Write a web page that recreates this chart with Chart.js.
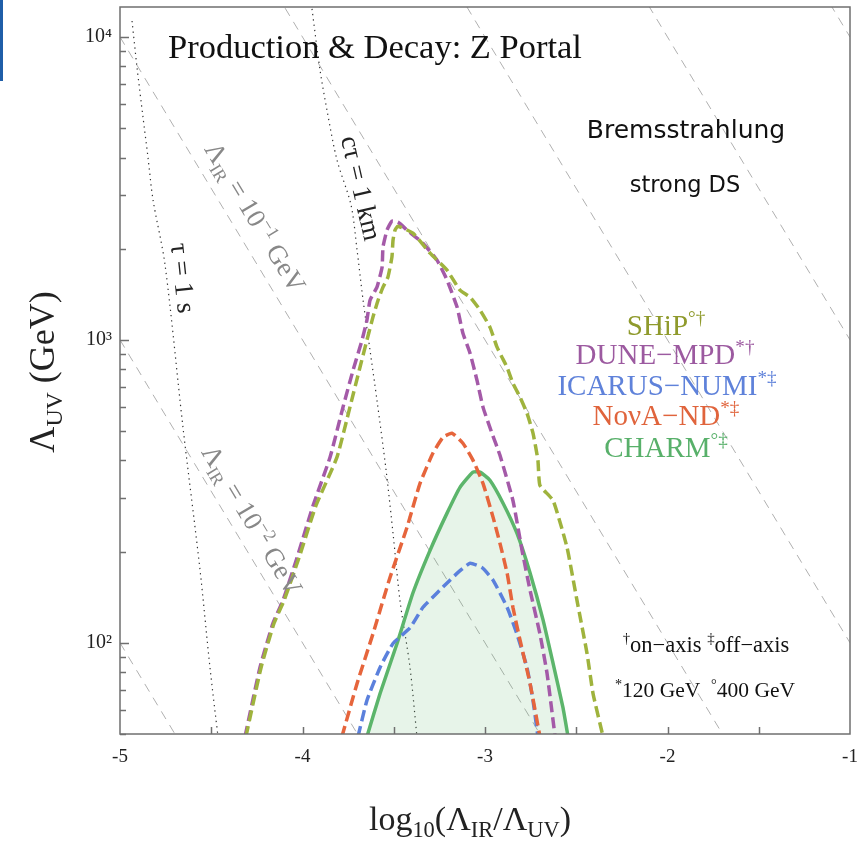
<!DOCTYPE html>
<html>
<head>
<meta charset="utf-8">
<script src="https://cdn.jsdelivr.net/npm/chart.js@4.4.1/dist/chart.umd.min.js"></script>
<style>
  html, body { margin: 0; padding: 0; background: #fff; }
  #contenedor { position: relative; width: 864px; height: 844px; }
  #marca { position: absolute; left: 0; top: 0; width: 3px; height: 81px; background: #1f5ea8; }
</style>
</head>
<body>
<div id="contenedor">
  <canvas id="grafica" width="864" height="844"></canvas>
  <div id="marca"></div>
</div>
<script>
// --- Datos (x = log10(ΛIR/ΛUV), y = ΛUV en GeV) ---
const shipX = [-4.310, -4.227, -4.156, -4.101, -4.019, -3.926, -3.811, -3.740, -3.685, -3.647, -3.614, -3.586, -3.559, -3.532, -3.510, -3.504, -3.493, -3.477, -3.395, -3.301, -3.208, -3.137, -3.082, -3.027, -2.973, -2.934, -2.907, -2.879, -2.847, -2.808, -2.770, -2.737, -2.710, -2.699, -2.627, -2.551, -2.496, -2.441, -2.408, -2.353];
const shipY = [49, 82.9, 116, 138, 191, 284, 410, 600, 812, 998, 1189, 1352, 1493, 1611, 1876, 2134, 2303, 2374, 2251, 1934, 1699, 1459, 1384, 1254, 1102, 946, 877, 812, 719, 647, 573, 492, 401, 331, 295, 207, 138, 92.3, 68.0, 49];

const duneX = [-4.315, -4.233, -4.162, -4.107, -4.030, -3.942, -3.849, -3.778, -3.723, -3.674, -3.647, -3.630, -3.592, -3.564, -3.559, -3.537, -3.510, -3.477, -3.427, -3.340, -3.263, -3.208, -3.153, -3.121, -3.082, -3.044, -3.011, -2.962, -2.918, -2.847, -2.797, -2.753, -2.699, -2.660, -2.616];
const duneY = [49, 82.9, 116, 138, 191, 284, 410, 600, 794, 998, 1162, 1352, 1493, 1738, 2025, 2303, 2467, 2448, 2303, 2086, 1834, 1575, 1283, 1052, 904, 736, 600, 492, 416, 295, 202, 149, 107, 79.2, 49];

const icarusX = [-3.696, -3.647, -3.575, -3.504, -3.411, -3.340, -3.263, -3.192, -3.137, -3.082, -3.016, -2.956, -2.879, -2.825, -2.770, -2.737, -2.710];
const icarusY = [49, 64.5, 82.9, 99.5, 112, 131, 146, 161, 173, 183, 177, 161, 131, 107, 82.9, 64.5, 49];

const novaX = [-3.784, -3.701, -3.614, -3.521, -3.427, -3.356, -3.285, -3.230, -3.181, -3.121, -3.066, -3.011, -2.956, -2.918, -2.879, -2.847, -2.808, -2.753, -2.699];
const novaY = [49, 73.4, 107, 164, 241, 336, 423, 477, 492, 456, 401, 336, 260, 213, 170, 131, 102, 73.4, 49];

const charmX = [-3.647, -3.575, -3.482, -3.395, -3.301, -3.208, -3.137, -3.066, -3.027, -2.973, -2.901, -2.825, -2.753, -2.682, -2.627, -2.573, -2.545];
const charmY = [49, 68.0, 99.5, 146, 202, 268, 326, 366, 366, 344, 289, 230, 170, 119, 85.5, 61.2, 49];

// --- Curvas de vida media (punteadas) ---
const tauX = [-4.934, -4.907, -4.874, -4.847, -4.819, -4.753, -4.655, -4.562, -4.507, -4.463];
const tauY = [11290, 7960, 5440, 4020, 2900, 1766, 515, 175, 82.9, 49];
const ctauX = [-3.948, -3.904, -3.866, -3.811, -3.734, -3.701, -3.668, -3.630, -3.592, -3.542, -3.504, -3.466, -3.411, -3.373];
const ctauY = [12380, 7780, 5740, 3925, 2786, 1977, 1352, 925, 632, 371, 230, 138, 82.9, 49];

// --- Rectas ΛIR constante (extremos en x = -5 y x = -1) ---
const irExtremosX = [-5, -1];
const irInicioY = [100, 1000, 1e4, 1e5, 1e6, 1e7, 1e8];
const irFinY = [0.01, 0.1, 1, 10, 100, 1000, 1e4];

// --- Ejes ---
const ticksY = [50, 60, 70, 80, 90, 100, 200, 300, 400, 500, 600, 700, 800, 900, 1000, 2000, 3000, 4000, 5000, 6000, 7000, 8000, 9000, 10000];
const etiquetasY = { 100: '10²', 1000: '10³', 10000: '10⁴' };
const ticksXmenores = [-4.5, -4, -3.5, -3, -2.5, -2, -1.5];

// --- Colores ---
const colorShip = '#9fb33d';
const colorDune = '#a45aa8';
const colorIcarus = '#5b80dc';
const colorNova = '#e6653c';
const colorCharm = '#5cb56b';

const serif = '"Liberation Serif", "DejaVu Serif", serif';
const sans = '"DejaVu Sans", sans-serif';

function puntos(xs, ys) {
    return xs.map((x, i) => ({ x: x, y: ys[i] }));
}

function curva(etiqueta, xs, ys, color, orden, extra) {
    return Object.assign({
        label: etiqueta,
        data: puntos(xs, ys),
        showLine: true,
        borderColor: color,
        borderWidth: 3.5,
        borderDash: [11, 5],
        pointRadius: 0,
        fill: false,
        tension: 0.15,
        order: orden
    }, extra || {});
}

// --- Dibujo de texto con subíndices y superíndices ---
function dibujarRico(ctx, partes, x, y, tam, familia, color, alinear) {
    const tamDe = tipo => (tipo === 'n' ? tam : tam * 0.66);
    const anchos = partes.map(([t, tipo]) => {
        ctx.font = tamDe(tipo) + 'px ' + familia;
        return ctx.measureText(t).width;
    });
    const total = anchos.reduce((a, b) => a + b, 0);
    let cx = alinear === 'center' ? x - total / 2 : (alinear === 'right' ? x - total : x);
    ctx.fillStyle = color;
    ctx.textAlign = 'left';
    ctx.textBaseline = 'alphabetic';
    partes.forEach(([t, tipo], i) => {
        ctx.font = tamDe(tipo) + 'px ' + familia;
        const dy = tipo === 'sub' ? tam * 0.22 : (tipo === 'sup' ? -tam * 0.38 : 0);
        ctx.fillText(t, cx, y + dy);
        cx += anchos[i];
    });
}

function dibujarRotado(ctx, partes, px, py, angulo, tam, familia, color) {
    ctx.save();
    ctx.translate(px, py);
    ctx.rotate(angulo);
    dibujarRico(ctx, partes, 0, tam * 0.32, tam, familia, color, 'center');
    ctx.restore();
}

// --- Plugin: marco y marcas interiores ---
const marcoPlugin = {
    id: 'marco',
    afterDatasetsDraw(chart) {
        const ctx = chart.ctx;
        const a = chart.chartArea;
        const ya = chart.scales.y;
        const xa = chart.scales.x;
        ctx.save();
        ctx.strokeStyle = '#6f6f6f';
        ctx.lineWidth = 1.5;
        ctx.strokeRect(a.left, a.top, a.right - a.left, a.bottom - a.top);
        ctx.beginPath();
        ticksY.forEach(v => {
            const p = Math.round(ya.getPixelForValue(v)) + 0.5;
            const largo = etiquetasY[v] ? 9 : 6;
            ctx.moveTo(a.left, p);
            ctx.lineTo(a.left + largo, p);
        });
        ticksXmenores.forEach(v => {
            const p = Math.round(xa.getPixelForValue(v)) + 0.5;
            ctx.moveTo(p, a.bottom);
            ctx.lineTo(p, a.bottom - 7);
        });
        ctx.stroke();
        ctx.restore();
    }
};

// --- Plugin: textos ---
const textosPlugin = {
    id: 'textos',
    afterDraw(chart) {
        const ctx = chart.ctx;
        const xa = chart.scales.x;
        const ya = chart.scales.y;
        const px = v => xa.getPixelForValue(v);
        const py = v => ya.getPixelForValue(v);
        // inclinación de las rectas ΛIR
        const angIR = Math.atan2(py(100) - py(1000), px(-4) - px(-5));

        ctx.save();
        dibujarRico(ctx, [['Production & Decay: Z Portal', 'n']], 375, 58, 34.5, serif, '#111', 'center');
        dibujarRico(ctx, [['Bremsstrahlung', 'n']], 686, 138, 25, sans, '#111', 'center');
        dibujarRico(ctx, [['strong DS', 'n']], 685, 192, 22.5, sans, '#111', 'center');

        dibujarRico(ctx, [['SHiP', 'n'], ['°†', 'sup']], 666, 335, 29, serif, '#8f9a2c', 'center');
        dibujarRico(ctx, [['DUNE−MPD', 'n'], ['*†', 'sup']], 665, 364, 29, serif, '#9c5aa0', 'center');
        dibujarRico(ctx, [['ICARUS−NUMI', 'n'], ['*‡', 'sup']], 667, 395, 29, serif, '#5f82da', 'center');
        dibujarRico(ctx, [['NoνA−ND', 'n'], ['*‡', 'sup']], 666, 425, 29, serif, '#e0643c', 'center');
        dibujarRico(ctx, [['CHARM', 'n'], ['°‡', 'sup']], 666, 457, 29, serif, '#58b06a', 'center');

        dibujarRico(ctx, [['†', 'sup'], ['on−axis ', 'n'], ['‡', 'sup'], ['off−axis', 'n']], 706, 652, 22.5, serif, '#111', 'center');
        dibujarRico(ctx, [['*', 'sup'], ['120 GeV  ', 'n'], ['°', 'sup'], ['400 GeV', 'n']], 705, 697, 21.5, serif, '#111', 'center');

        // etiquetas sobre las rectas
        dibujarRotado(ctx, [['Λ', 'n'], ['IR', 'sub'], [' = 10', 'n'], ['−1', 'sup'], [' GeV', 'n']], px(-4.26), py(2541), angIR, 27, serif, '#888');
        dibujarRotado(ctx, [['Λ', 'n'], ['IR', 'sub'], [' = 10', 'n'], ['−2', 'sup'], [' GeV', 'n']], px(-4.277), py(254), angIR, 27, serif, '#888');
        dibujarRotado(ctx, [['τ = 1 s', 'n']], px(-4.655), py(1600), 84 * Math.PI / 180, 27, serif, '#222');
        dibujarRotado(ctx, [['cτ = 1 km', 'n']], px(-3.679), py(3170), 77 * Math.PI / 180, 27, serif, '#222');

        // títulos de los ejes
        dibujarRico(ctx, [['log', 'n'], ['10', 'sub'], ['(Λ', 'n'], ['IR', 'sub'], ['/Λ', 'n'], ['UV', 'sub'], [')', 'n']], 470, 830, 34, serif, '#222', 'center');
        ctx.save();
        ctx.translate(54, 372);
        ctx.rotate(-Math.PI / 2);
        dibujarRico(ctx, [['Λ', 'n'], ['UV', 'sub'], [' (GeV)', 'n']], 0, 0, 36, serif, '#222', 'center');
        ctx.restore();
        ctx.restore();
    }
};

// --- Datasets ---
const datasets = [];
irInicioY.forEach((y0, i) => {
    datasets.push({
        label: 'IR ' + i,
        data: puntos(irExtremosX, [y0, irFinY[i]]),
        showLine: true,
        borderColor: '#b0b0b0',
        borderWidth: 1,
        borderDash: [9, 7],
        pointRadius: 0,
        clip: 0,
        order: 20
    });
});
datasets.push(curva('tau = 1 s', tauX, tauY, '#333', 15, { borderWidth: 1.2, borderDash: [1.3, 4], tension: 0.3 }));
datasets.push(curva('c tau = 1 km', ctauX, ctauY, '#333', 15, { borderWidth: 1.2, borderDash: [1.3, 4], tension: 0.3 }));
datasets.push(curva('CHARM', charmX, charmY, colorCharm, 6, { borderDash: [], fill: 'start', backgroundColor: 'rgba(92,181,107,0.15)' }));
datasets.push(curva('ICARUS-NUMI', icarusX, icarusY, colorIcarus, 4));
datasets.push(curva('NOvA-ND', novaX, novaY, colorNova, 3));
datasets.push(curva('DUNE-MPD', duneX, duneY, colorDune, 2));
datasets.push(curva('SHiP', shipX, shipY, colorShip, 1));

// --- Gráfica ---
const ctx = document.getElementById('grafica').getContext('2d');
new Chart(ctx, {
    type: 'scatter',
    data: { datasets: datasets },
    options: {
        responsive: false,
        animation: false,
        layout: { padding: { top: 7, right: 14, left: 0, bottom: 0 } },
        plugins: { legend: { display: false }, tooltip: { enabled: false } },
        scales: {
            x: {
                type: 'linear',
                min: -5,
                max: -1,
                afterFit: s => { s.height = 110; s.paddingLeft = 0; s.paddingRight = 0; },
                grid: { display: false, drawTicks: false },
                border: { display: false },
                ticks: { stepSize: 1, padding: 12, color: '#222', font: { family: serif, size: 19 } }
            },
            y: {
                type: 'logarithmic',
                min: 50,
                max: 12560,
                afterFit: s => { s.width = 120; s.paddingTop = 0; s.paddingBottom = 0; },
                afterBuildTicks: s => { s.ticks = ticksY.map(v => ({ value: v })); },
                grid: { display: false, drawTicks: false },
                border: { display: false },
                ticks: {
                    padding: 8,
                    color: '#222',
                    font: { family: serif, size: 20 },
                    autoSkip: false,
                    callback: v => etiquetasY[v] || ''
                }
            }
        }
    },
    plugins: [marcoPlugin, textosPlugin]
});
</script>
</body>
</html>
